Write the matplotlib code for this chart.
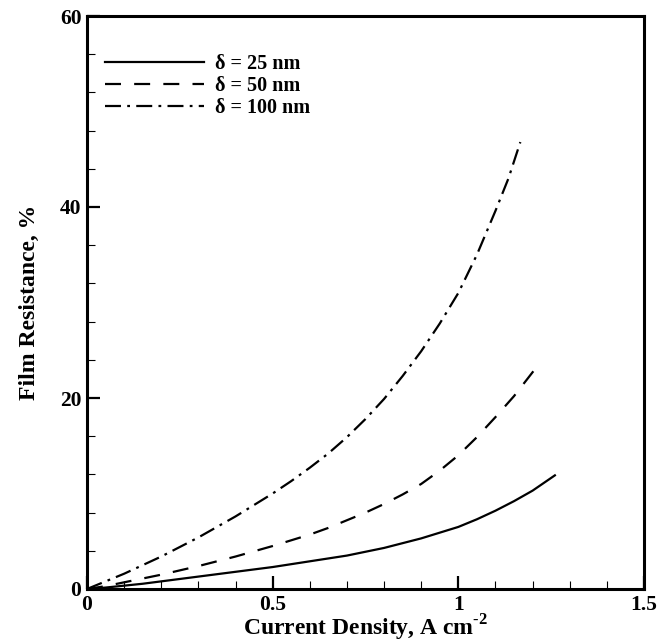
import matplotlib
matplotlib.use("Agg")
import matplotlib.pyplot as plt
from matplotlib.ticker import MultipleLocator

plt.rcParams['font.family'] = ['Liberation Serif', 'DejaVu Serif']
plt.rcParams['font.weight'] = 'bold'
plt.rcParams['lines.scale_dashes'] = False
plt.rcParams['mathtext.fontset'] = 'custom'
plt.rcParams['mathtext.rm'] = 'Liberation Serif:bold'
plt.rcParams['mathtext.bf'] = 'Liberation Serif:bold'

# Data
x_25 = [0.0, 0.05, 0.1, 0.15, 0.2, 0.25, 0.3, 0.35, 0.4, 0.45, 0.5, 0.55, 0.6, 0.65,
        0.7, 0.75, 0.8, 0.85, 0.9, 0.95, 1.0, 1.05, 1.1, 1.15, 1.2, 1.26]
y_25 = [0.0, 0.15, 0.35, 0.55, 0.8, 1.05, 1.3, 1.55, 1.8, 2.05, 2.3, 2.6, 2.9, 3.2,
        3.5, 3.9, 4.3, 4.8, 5.3, 5.9, 6.5, 7.3, 8.2, 9.2, 10.3, 11.9]

x_50 = [0.0, 0.05, 0.1, 0.15, 0.2, 0.25, 0.3, 0.35, 0.4, 0.45, 0.5, 0.55, 0.6, 0.65,
        0.7, 0.75, 0.8, 0.85, 0.9, 0.95, 1.0, 1.05, 1.1, 1.15, 1.22]
y_50 = [0.0, 0.3, 0.7, 1.1, 1.5, 1.95, 2.4, 2.9, 3.4, 3.95, 4.5, 5.1, 5.7, 6.4,
        7.2, 8.0, 8.9, 9.9, 11.0, 12.4, 14.0, 15.9, 18.0, 20.2, 23.7]

x_100 = [0.0, 0.05, 0.1, 0.15, 0.2, 0.25, 0.3, 0.35, 0.4, 0.45, 0.5, 0.55, 0.6, 0.65,
         0.7, 0.75, 0.8, 0.85, 0.9, 0.95, 1.0, 1.05, 1.1, 1.135, 1.167]
y_100 = [0.0, 0.8, 1.6, 2.5, 3.4, 4.4, 5.4, 6.5, 7.6, 8.8, 10.0, 11.3, 12.7, 14.2,
         15.9, 17.8, 19.9, 22.3, 24.9, 27.8, 31.0, 35.0, 39.6, 43.0, 46.8]

labels = ["δ = 25 nm", "δ = 50 nm", "δ = 100 nm"]
x_ticks = [0, 0.5, 1, 1.5]
x_ticklabels = ["0", "0.5", "1", "1.5"]
y_ticks = [0, 20, 40, 60]
y_ticklabels = ["0", "20", "40", "60"]

fig = plt.figure(figsize=(6.72, 6.44), dpi=100)
ax = fig.add_axes([87/672, 1 - 589/644, (644 - 87)/672, (589 - 16)/644])

lw = 1.6
ax.plot(x_25, y_25, color='black', lw=lw, linestyle='-', label=labels[0])
ax.plot(x_50, y_50, color='black', lw=lw, linestyle=(0, (11.5, 9.5)), label=labels[1])
ax.plot(x_100, y_100, color='black', lw=lw, linestyle=(0, (11.5, 4.5, 2, 4.5)), label=labels[2])

ax.set_xlim(0, 1.5)
ax.set_ylim(0, 60)
ax.set_xticks(x_ticks)
ax.set_xticklabels(x_ticklabels)
ax.set_yticks(y_ticks)
ax.set_yticklabels(y_ticklabels)
ax.xaxis.set_minor_locator(MultipleLocator(0.1))
ax.yaxis.set_minor_locator(MultipleLocator(4))

ax.tick_params(which='major', direction='in', length=9.5, width=1.6, labelsize=15.5, pad=4,
               top=False, right=False)
ax.tick_params(which='minor', direction='in', length=6, width=0.8, top=False, right=False)
for lab in ax.get_xticklabels() + ax.get_yticklabels():
    lab.set_fontweight('bold')

for s in ax.spines.values():
    s.set_linewidth(2.2)

ax.set_xlabel("Current Density, A cm$^{\\text{-2}}$", fontsize=17, fontweight='bold', labelpad=-1)
ax.set_ylabel("Film Resistance, %", fontsize=17, fontweight='bold', labelpad=14)

leg = ax.legend(loc='upper left', bbox_to_anchor=(0.0, 0.965), frameon=False,
                handlelength=4.9, handletextpad=0.55, labelspacing=0.1,
                prop={'family': 'Liberation Serif', 'weight': 'bold', 'size': 14.5})

fig.savefig("out.png", dpi=100)
